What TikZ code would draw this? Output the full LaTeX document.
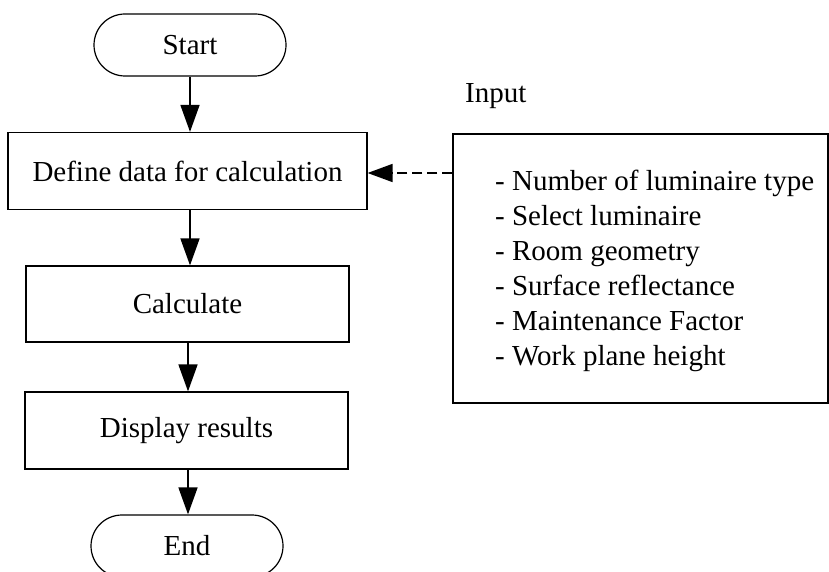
\documentclass[tikz,border=0pt]{standalone}
\usepackage{fontspec}
\setmainfont{Liberation Serif}
\usetikzlibrary{shapes.misc,arrows.meta}
\begin{document}
\begin{tikzpicture}[x=1pt,y=-1pt,
  every node/.style={font=\fontsize{29}{35}\selectfont},
  box/.style={draw,line width=1.2pt,minimum width=#1,minimum height=77pt,inner sep=0pt},
  term/.style={draw,rounded rectangle,line width=1.2pt,minimum width=192pt,minimum height=62pt,inner sep=0pt},
  flow/.style={line width=1.6pt,-{Triangle[length=27pt,width=19pt]}},
  feed/.style={line width=1.6pt,dash pattern=on 10pt off 5pt,-{Triangle[length=25pt,width=18pt]}},
  item/.style={anchor=base west,inner sep=0pt}]
\useasboundingbox (0,0) rectangle (829,572);
\clip (0,0) rectangle (829,572);

% main flow
\node[term] (start) at (190,45) {Start};
\node[box=359pt] (define) at (187.5,171) {Define data for calculation};
\node[box=323pt,minimum height=76pt] (calc) at (187.5,304) {Calculate};
\node[box=323pt] (disp) at (186.5,430.5) {Display results};
\node[term] (end) at (187,546) {End};

\draw[flow] (start.south -| 190,0) -- (define.north -| 190,0);
\draw[flow] (define.south -| 190,0) -- (calc.north -| 190,0);
\draw[flow] (calc.south -| 188,0) -- (disp.north -| 188,0);
\draw[flow] (disp.south -| 188,0) -- (end.north -| 188,0);

% input parameters
\node[item] (inlabel) at (465,103) {Input};
\node[draw,line width=1.2pt,minimum width=375pt,minimum height=269pt,inner sep=0pt] (input) at (640.5,268.5) {};
\node[item] (p1) at (495,190) {- Number of luminaire type};
\node[item] (p2) at (495,225) {- Select luminaire};
\node[item] (p3) at (495,260) {- Room geometry};
\node[item] (p4) at (495,295) {- Surface reflectance};
\node[item] (p5) at (495,330) {- Maintenance Factor};
\node[item] (p6) at (495,365) {- Work plane height};

\draw[feed] (input.west |- 0,173) -- (define.east |- 0,173);
\end{tikzpicture}
\end{document}
